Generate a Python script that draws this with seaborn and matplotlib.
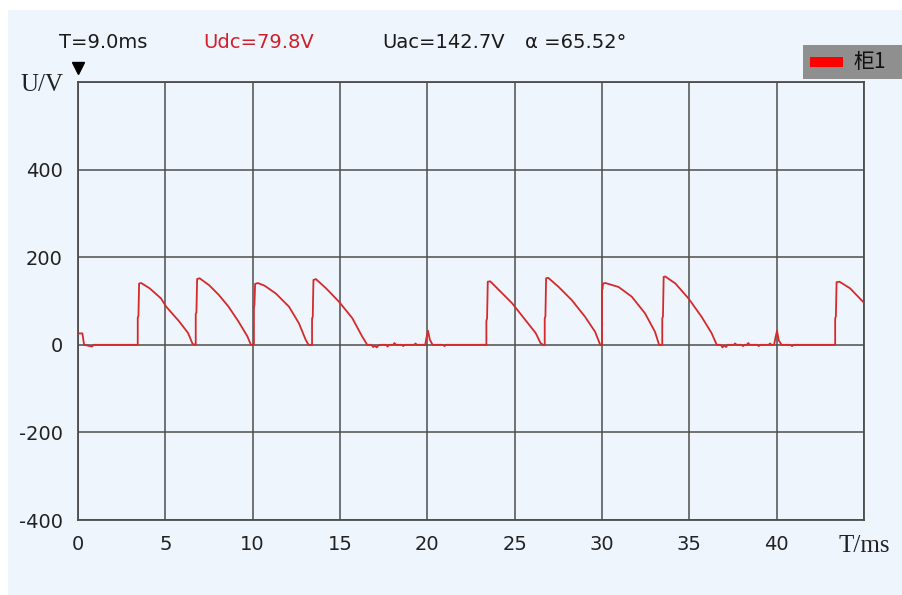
import matplotlib
matplotlib.use("Agg")
import matplotlib.pyplot as plt
import matplotlib.patches as mpatches
import pandas as pd
import seaborn as sns

# waveform: time in ms, voltage in V
start_t = [0.0, 0.25, 0.35, 0.8, 0.9, 1.0]
start_u = [26, 26, 0, -4, 0, 0]

p1_t = [3.42, 3.42, 3.46, 3.50, 3.62, 4.10, 4.75, 5.05, 5.80, 6.30, 6.56, 6.70]
p1_u = [0, 62, 66, 140, 141, 129, 106, 87, 53, 27, 2, 0]
p2_t = [6.74, 6.74, 6.78, 6.82, 6.96, 7.51, 8.06, 8.62, 9.19, 9.70, 9.90, 10.04]
p2_u = [0, 70, 74, 150, 152, 136, 114, 87, 53, 19, 0, 0]
p3_t = [10.07, 10.07, 10.10, 10.14, 10.30, 10.68, 11.33, 12.08, 12.65, 13.04, 13.20, 13.38]
p3_u = [0, 85, 90, 139, 141, 135, 117, 87, 49, 11, 0, 0]
p4_t = [13.40, 13.40, 13.44, 13.48, 13.62, 14.20, 14.95, 15.70, 16.27, 16.56]
p4_u = [0, 60, 64, 148, 150, 129, 98, 61, 19, 0]

quiet1_t = [16.80, 16.90, 17.00, 17.10, 17.20, 17.30, 17.65, 17.72, 17.80, 18.05, 18.12, 18.20,
            18.55, 18.62, 18.70, 19.25, 19.32, 19.40, 19.88, 19.94, 20.04, 20.14, 20.30,
            20.90, 20.98, 21.06]
quiet1_u = [0, -5, -2, -6, -1, 0, 0, -4, 0, 0, 4, 0,
            0, -3, 0, 0, 3, 0, 0, 14, 32, 12, 0,
            0, -3, 0]

p5_t = [23.38, 23.38, 23.42, 23.46, 23.60, 24.10, 24.85, 25.60, 26.20, 26.48, 26.62]
p5_u = [0, 55, 60, 144, 145, 125, 95, 57, 27, 4, 0]
p6_t = [26.72, 26.72, 26.76, 26.80, 26.92, 27.52, 28.27, 29.03, 29.60, 29.90]
p6_u = [0, 60, 65, 152, 153, 132, 102, 64, 30, 0]
p7_t = [30.00, 30.00, 30.03, 30.06, 30.20, 30.95, 31.70, 32.46, 33.03, 33.27, 33.42]
p7_u = [0, 125, 128, 140, 141, 132, 110, 72, 30, 0, 0]
p8_t = [33.45, 33.45, 33.49, 33.53, 33.62, 34.20, 34.95, 35.70, 36.27, 36.57]
p8_u = [0, 60, 65, 155, 156, 140, 106, 64, 27, 0]

quiet2_t = [36.80, 36.90, 37.00, 37.10, 37.20, 37.55, 37.62, 37.70, 38.00, 38.07, 38.15,
            38.30, 38.37, 38.45, 38.90, 38.97, 39.05, 39.55, 39.62, 39.70,
            39.85, 39.92, 40.02, 40.12, 40.28, 40.80, 40.88, 40.96]
quiet2_u = [0, -6, -1, -5, 0, 0, 3, 0, 0, -3, 0,
            0, 4, 0, 0, -3, 0, 0, 3, 0,
            0, 14, 32, 10, 0, 0, -3, 0]

p9_t = [43.35, 43.35, 43.39, 43.43, 43.60, 44.20, 45.00]
p9_u = [0, 60, 65, 143, 144, 129, 96]

x_ticks = [0, 5, 10, 15, 20, 25, 30, 35, 40, 45]
x_labels = ["0", "5", "10", "15", "20", "25", "30", "35", "40", "T/ms"]
y_ticks = [-400, -200, 0, 200, 400, 600]
y_labels = ["-400", "-200", "0", "200", "400", ""]

header = ["T=9.0ms", "Udc=79.8V", "Uac=142.7V", "\u03b1 =65.52\u00b0"]
header_x = [59, 203, 382, 525]
header_colors = ["#1a1a1a", "#d0202a", "#1a1a1a", "#1a1a1a"]

BG = "#EEF5FD"
GRID = "#4d4d4d"
TRACE = "#d42a2a"

t_all = (start_t + p1_t + p2_t + p3_t + p4_t + quiet1_t
         + p5_t + p6_t + p7_t + p8_t + quiet2_t + p9_t)
u_all = (start_u + p1_u + p2_u + p3_u + p4_u + quiet1_u
         + p5_u + p6_u + p7_u + p8_u + quiet2_u + p9_u)
df = pd.DataFrame({"t_ms": t_all, "u_v": u_all})

sns.set_theme(style="white")
plt.rcParams["font.family"] = ["DejaVu Sans", "Noto Sans CJK SC"]

W, H = 902, 595
fig = plt.figure(figsize=(W / 100, H / 100), dpi=100, facecolor="white")
fig.patches.append(mpatches.Rectangle((8 / W, 0), 1, 1 - 10 / H, transform=fig.transFigure,
                                      facecolor=BG, edgecolor="none", zorder=-5))

ax = fig.add_axes([78 / W, 1 - 520 / H, (864 - 78) / W, (520 - 82) / H])
ax.set_facecolor(BG)

sns.lineplot(data=df, x="t_ms", y="u_v", sort=False, estimator=None,
             color=TRACE, linewidth=1.3, ax=ax, zorder=3)

ax.set_xlim(0, 45)
ax.set_ylim(-400, 600)
ax.set_xticks(x_ticks)
ax.set_xticklabels(x_labels)
ax.set_yticks(y_ticks)
ax.set_yticklabels(y_labels)
ax.set_xlabel("")
ax.set_ylabel("")
ax.set_axisbelow(True)
ax.grid(True, color=GRID, linewidth=1.1)
for s in ax.spines.values():
    s.set_color(GRID)
    s.set_linewidth(1.3)
ax.tick_params(length=0, labelsize=14, labelcolor="#222222")
ax.tick_params(axis="x", pad=11)
ax.tick_params(axis="y", pad=11)
unit = ax.get_xticklabels()[-1]
unit.set_fontfamily("Liberation Serif")
unit.set_fontsize(18)

# small marker above the y axis
ax.plot([0], [632], marker="v", markersize=8, color="black", clip_on=False)

fig.text(42 / W, 1 - 91 / H, "U/V", family="Liberation Serif", fontsize=18,
         color="#222222", ha="center", va="baseline")

for label, xp, c in zip(header, header_x, header_colors):
    fig.text(xp / W, 1 - 48 / H, label, fontsize=14, color=c, ha="left", va="baseline")

# legend box
fig.patches.append(mpatches.Rectangle((803 / W, 1 - 79 / H), 99 / W, 34 / H,
                                      transform=fig.transFigure, facecolor="#8f8f8f",
                                      edgecolor="none", zorder=2))
fig.patches.append(mpatches.Rectangle((810 / W, 1 - 67 / H), 33 / W, 10 / H,
                                      transform=fig.transFigure, facecolor="#ff0000",
                                      edgecolor="none", zorder=3))
fig.text(853 / W, 1 - 62 / H, "柜1", family=["Noto Sans CJK SC", "DejaVu Sans"],
         fontsize=15, color="#111111", ha="left", va="center", zorder=4)

fig.savefig("out.png", dpi=100, facecolor=fig.get_facecolor())
